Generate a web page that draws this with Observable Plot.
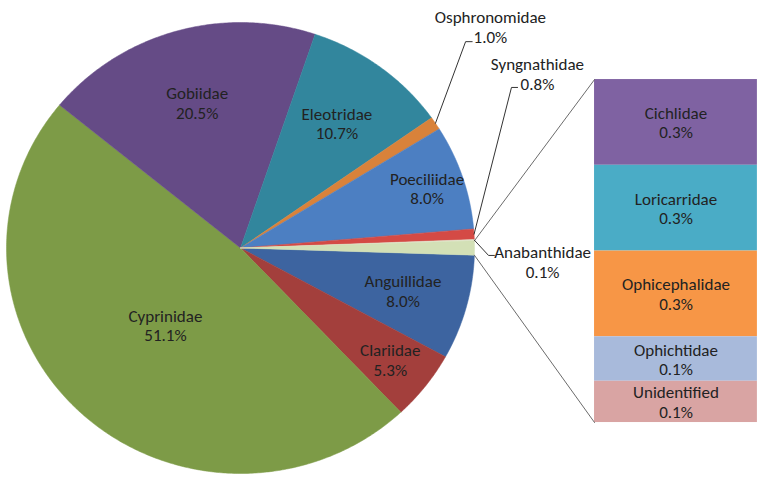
<!DOCTYPE html>
<html><head><meta charset="utf-8">
<script src="https://cdn.jsdelivr.net/npm/d3@7"></script>
<script src="https://cdn.jsdelivr.net/npm/@observablehq/plot@0.6"></script>
<style>html,body{margin:0;padding:0;background:#fff;} #chart svg{display:block}</style>
</head><body><div id="chart"></div>
<script>
// ---- DATA ----
// Pie slices, clockwise starting just below the "Other" slice at 3 o'clock
const pieNames  = ["Anguillidae","Clariidae","Cyprinidae","Gobiidae","Eleotridae","Osphronomidae","Poeciliidae","Syngnathidae","Anabanthidae"];
const pieValues = [8.0, 5.3, 51.1, 20.5, 10.7, 1.0, 8.0, 0.8, 0.1];
// Bar: breakdown of the "Other" slice
const barNames  = ["Cichlidae","Loricarridae","Ophicephalidae","Ophichtidae","Unidentified"];
const barValues = [0.27, 0.27, 0.27, 0.14, 0.13];

// ---- STYLE ----
const pieColors = ["#3D64A0","#A33F3C","#7D9B47","#654B86","#32869D","#D9823A","#4C7FC2","#D44A45","#E3E6CF"];
const otherColor = "#D3E0B6";
const barColors = ["#7F62A2","#4AACC6","#F79646","#A8BADB","#D9A4A3"];
const FONT = "Carlito, Calibri, Lato, sans-serif";
const FS = 17;
const LH = 1.15;

// ---- LAYOUT (unit coordinates: pie radius = 1) ----
const insideRadius = {Anguillidae:0.72, Clariidae:0.81, Cyprinidae:0.47, Gobiidae:0.67, Eleotridae:0.69, Poeciliidae:0.84};
const outside = {
  Osphronomidae: {text:[1.068, 0.982], elbow:[0.962, 0.915], tick:[0.990, 0.915]},
  Syngnathidae:  {text:[1.269, 0.772], elbow:[1.158, 0.712], tick:[1.184, 0.712]},
  Anabanthidae:  {text:[1.291,-0.062], elbow:[1.060,-0.033], tick:[1.085,-0.033]}
};
const barX = [1.513, 2.209], barTop = 0.747, barBottom = -0.774;

// ---- DERIVED ----
const deg = Math.PI / 180;
const otherValue = d3.sum(barValues);
const total = d3.sum(pieValues) + otherValue;
const slices = pieNames.map((n, i) => ({name: n, value: pieValues[i]}));
slices.push({name: "Other", value: otherValue});
let acc = 90 + (otherValue / total * 360) / 2;
for (const s of slices) { s.a0 = acc; s.a1 = acc + s.value / total * 360; s.mid = (s.a0 + s.a1) / 2; acc = s.a1; }
const polar = (a, r) => [r * Math.sin(a * deg), r * Math.cos(a * deg)];

const piePts = [];
for (const s of slices) {
  piePts.push({name: s.name, x: 0, y: 0});
  const n = Math.max(2, Math.ceil((s.a1 - s.a0) / 0.5));
  for (let k = 0; k <= n; k++) { const [x, y] = polar(s.a0 + (s.a1 - s.a0) * k / n, 1); piePts.push({name: s.name, x, y}); }
  piePts.push({name: s.name, x: 0, y: 0});
}

const insideLabels = slices.filter(s => insideRadius[s.name] != null).map(s => {
  const [x, y] = polar(s.mid, insideRadius[s.name]);
  return {x, y, label: `${s.name}\n${s.value.toFixed(1)}%`};
});
const outsideLabels = slices.filter(s => outside[s.name]).map(s => ({x: outside[s.name].text[0], y: outside[s.name].text[1], label: `${s.name}\n${s.value.toFixed(1)}%`}));
const leaderPts = [];
for (const s of slices.filter(s => outside[s.name])) {
  const o = outside[s.name];
  const [ex, ey] = polar(s.mid, 1);
  leaderPts.push({k: s.name, x: ex, y: ey}, {k: s.name, x: o.elbow[0], y: o.elbow[1]}, {k: s.name, x: o.tick[0], y: o.tick[1]});
}

const perUnit = (barTop - barBottom) / otherValue;
let yb = barTop;
const bars = barNames.map((n, i) => {
  const y1 = yb, y2 = yb - barValues[i] * perUnit; yb = y2;
  return {name: n, value: barValues[i], x1: barX[0], x2: barX[1], y1, y2, xm: (barX[0] + barX[1]) / 2, ym: (y1 + y2) / 2};
});
const other = slices[slices.length - 1];
const [tx, ty] = polar(other.a0, 1), [bx, by] = polar(other.a1, 1);
const connectors = [
  {k: "top", x: barX[0], y: barTop}, {k: "top", x: tx, y: ty},
  {k: "bot", x: barX[0], y: barBottom}, {k: "bot", x: bx, y: by}
];

const W = 761, H = 479, cx = 240, cy = 247.5, rx = 234, ry = 225.5;
const chart = Plot.plot({
  width: W, height: H, margin: 0,
  x: {domain: [-cx / rx, (W - cx) / rx], range: [0, W], axis: null},
  y: {domain: [-(H - cy) / ry, cy / ry], range: [H, 0], axis: null},
  color: {domain: [...pieNames, "Other", ...barNames], range: [...pieColors, otherColor, ...barColors]},
  style: {background: "#fff", fontFamily: FONT},
  marks: [
    Plot.line(piePts, {x: "x", y: "y", z: "name", fill: "name", stroke: "name", strokeWidth: 0.5, curve: "linear"}),
    Plot.rect(bars, {x1: "x1", x2: "x2", y1: "y1", y2: "y2", fill: "name"}),
    Plot.line(connectors, {x: "x", y: "y", z: "k", stroke: "#6b6b6b", strokeWidth: 1}),
    Plot.line(leaderPts, {x: "x", y: "y", z: "k", stroke: "#333", strokeWidth: 1}),
    Plot.text(insideLabels, {x: "x", y: "y", text: "label", fontSize: FS, lineHeight: LH, fill: "#222", fontFamily: FONT}),
    Plot.text(outsideLabels, {x: "x", y: "y", text: "label", fontSize: FS, lineHeight: LH, fill: "#222", fontFamily: FONT}),
    Plot.text(bars, {x: "xm", y: "ym", text: d => `${d.name}\n${d.value.toFixed(1)}%`, fontSize: FS, lineHeight: LH, fill: "#222", fontFamily: FONT})
  ]
});
document.getElementById("chart").append(chart);
</script></body></html>
